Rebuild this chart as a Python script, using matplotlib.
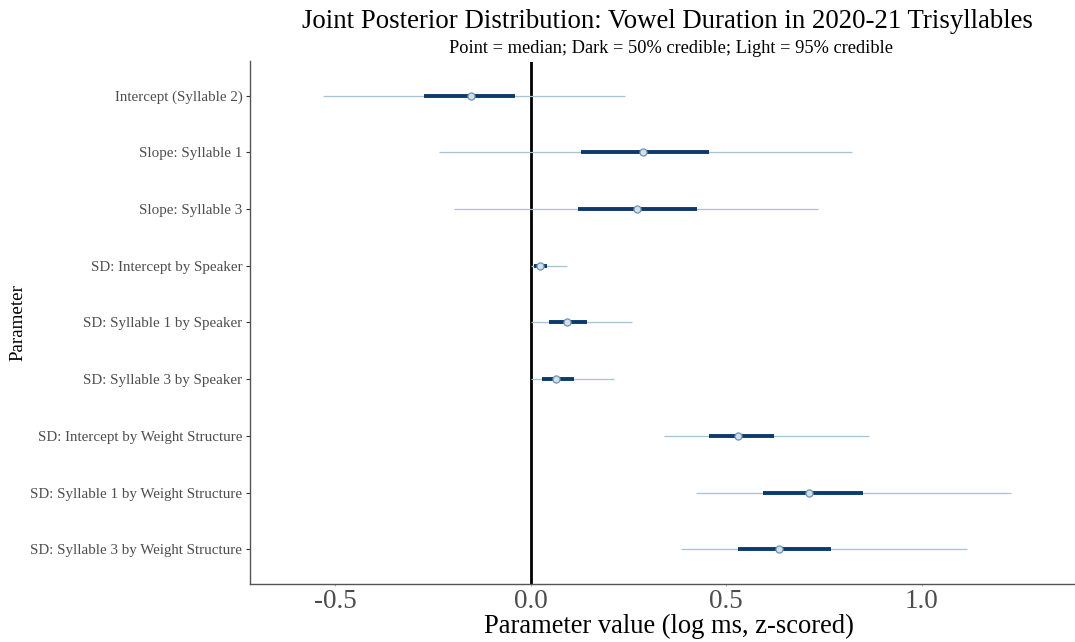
import matplotlib
matplotlib.use("Agg")
import matplotlib.pyplot as plt

plt.rcParams['font.family'] = ['Liberation Serif', 'DejaVu Serif']

parameters = [
    "Intercept (Syllable 2)",
    "Slope: Syllable 1",
    "Slope: Syllable 3",
    "SD: Intercept by Speaker",
    "SD: Syllable 1 by Speaker",
    "SD: Syllable 3 by Speaker",
    "SD: Intercept by Weight Structure",
    "SD: Syllable 1 by Weight Structure",
    "SD: Syllable 3 by Weight Structure",
]
median = [-0.153, 0.288, 0.273, 0.023, 0.092, 0.065, 0.530, 0.712, 0.636]
ci50_lo = [-0.273, 0.128, 0.121, 0.009, 0.047, 0.029, 0.456, 0.593, 0.530]
ci50_hi = [-0.040, 0.457, 0.426, 0.041, 0.143, 0.110, 0.622, 0.850, 0.767]
ci95_lo = [-0.531, -0.234, -0.197, 0.001, 0.001, 0.001, 0.341, 0.424, 0.385]
ci95_hi = [0.242, 0.822, 0.735, 0.093, 0.259, 0.212, 0.865, 1.228, 1.116]
x_ticks = [-0.5, 0.0, 0.5, 1.0]
x_tick_labels = ["-0.5", "0.0", "0.5", "1.0"]

light_line = "#a6c3d6"
dark_line = "#0b3a6b"
point_fill = "#d1e1ec"
point_edge = "#6f92b0"

fig = plt.figure(figsize=(10.75, 6.42), dpi=100)
ax = fig.add_axes([250 / 1075, 1 - 583.5 / 642, 825 / 1075, (583.5 - 61.5) / 642])

n = len(parameters)
ypos = list(range(n, 0, -1))  # first parameter at the top

ax.axvline(0, color="black", lw=2.0, zorder=1)
ax.hlines(ypos, ci95_lo, ci95_hi, color=light_line, lw=0.9, zorder=2)
ax.hlines(ypos, ci50_lo, ci50_hi, color=dark_line, lw=2.8, zorder=3)
ax.scatter(median, ypos, s=26, facecolor=point_fill, edgecolor=point_edge,
           linewidth=0.9, zorder=4)

ax.set_xlim(-0.7175, 1.392)
ax.set_ylim(0.4, n + 0.6)
ax.set_yticks(ypos)
ax.set_yticklabels(parameters, fontsize=10.8, color="#4d4d4d")
ax.set_xticks(x_ticks)
ax.set_xticklabels(x_tick_labels, fontsize=19.5, color="#4d4d4d")
ax.tick_params(axis="y", length=3, width=0.8, color="#333333", pad=2.5)
ax.tick_params(axis="x", length=1.2, width=0.6, color="#999999", pad=3)

for side in ("top", "right"):
    ax.spines[side].set_visible(False)
for side in ("left", "bottom"):
    ax.spines[side].set_color("#555555")
    ax.spines[side].set_linewidth(1.0)

ax.set_xlabel("Parameter value (log ms, z-scored)", fontsize=19.1)
ax.xaxis.set_label_coords((669 - 250) / 825, -0.058, transform=ax.transAxes)
ax.set_ylabel("Parameter", fontsize=13.7)
ax.yaxis.set_label_coords(-(250 - 26) / 825, 0.5, transform=ax.transAxes)

fig.text(0.6205, 1 - 22 / 642, "Joint Posterior Distribution: Vowel Duration in 2020-21 Trisyllables",
         ha="center", va="center", fontsize=19.3)
fig.text(0.6240, 1 - 48.5 / 642, "Point = median; Dark = 50% credible; Light = 95% credible",
         ha="center", va="center", fontsize=13.2)

fig.savefig("out.png", dpi=100)
